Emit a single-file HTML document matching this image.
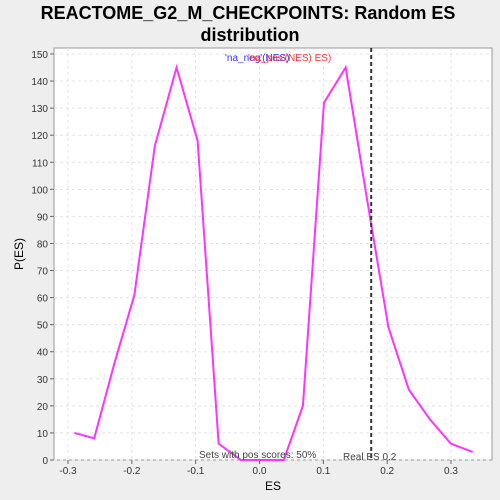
<!DOCTYPE html>
<html><head><meta charset="utf-8"><style>
html,body{margin:0;padding:0;background:#eeeeee;width:500px;height:500px;overflow:hidden;font-family:"Liberation Sans",sans-serif}
svg{display:block}
</style></head><body>
<svg id="chart" width="500" height="500" xmlns="http://www.w3.org/2000/svg" font-family="Liberation Sans, sans-serif">
<text x="248" y="19" text-anchor="middle" font-size="18" font-weight="bold">REACTOME_G2_M_CHECKPOINTS: Random ES</text>
<text x="250" y="41" text-anchor="middle" font-size="18" font-weight="bold">distribution</text>
<rect x="54" y="48" width="438" height="412" fill="#fff" stroke="#999"/>
<g id="grid"></g><g id="axes"></g><g id="series"></g>
<text x="225" y="61" font-size="10" fill="#3333ff">'na_neg'(NES)</text>
<text x="248" y="61" font-size="10" fill="#ff3333">'na_pos'(NES) ES)</text>
<text x="273" y="490" text-anchor="middle" font-size="12">ES</text>
<text x="23" y="254" text-anchor="middle" font-size="12" transform="rotate(-90 23 254)">P(ES)</text>
<text x="199" y="458" font-size="10" fill="#444">Sets with pos scores: 50%</text>
<text x="343" y="460" font-size="10" fill="#444">Real ES 0.2</text>
</svg>
<script>
const esValues=[-0.29,-0.259,-0.227,-0.196,-0.164,-0.13,-0.097,-0.064,-0.029,0.038,0.068,0.101,0.135,0.168,0.202,0.234,0.267,0.3,0.334];
const densityValues=[10,8,36,61,116,145,118,6,0,0,20,132,145,97,49,26,15,6,3];
const xTicks=[-0.3,-0.2,-0.1,0.0,0.1,0.2,0.3];
const xTickLabels=["-0.3","-0.2","-0.1","0.0","0.1","0.2","0.3"];
const yTicks=[0,10,20,30,40,50,60,70,80,90,100,110,120,130,140,150];
const realES=[0.175];
const NS="http://www.w3.org/2000/svg";
const x=v=>259.5+v*638.3;
const y=v=>460-v*2.7067;
function mk(t,a,p){const e=document.createElementNS(NS,t);for(const k in a)e.setAttribute(k,a[k]);p.appendChild(e);return e;}
const grid=document.getElementById('grid'),axes=document.getElementById('axes'),series=document.getElementById('series');
yTicks.forEach(v=>{
 const l=mk('line',{x1:54,x2:492,y1:y(v),y2:y(v),stroke:'#e4e4e4','stroke-dasharray':'3,3'},grid);
 
 
 mk('line',{x1:50,x2:54,y1:y(v),y2:y(v),stroke:'#666'},axes);
 const t=mk('text',{x:48,y:y(v)+4,'text-anchor':'end','font-size':10,fill:'#333'},axes);t.textContent=v;
 
 
});
xTicks.forEach((v,i)=>{
 const l=mk('line',{x1:x(v),x2:x(v),y1:48,y2:460,stroke:'#e4e4e4','stroke-dasharray':'3,3'},grid);
 
 
 mk('line',{x1:x(v),x2:x(v),y1:460,y2:464,stroke:'#666'},axes);
 const t=mk('text',{x:x(v),y:474,'text-anchor':'middle','font-size':10,fill:'#333'},axes);t.textContent=xTickLabels[i];
 
 
});
const pts=esValues.map((v,i)=>x(v)+','+y(densityValues[i])).join(' ');
const pl=mk('polyline',{points:pts,fill:'none',stroke:'#ff33ff','stroke-width':2},series);


realES.forEach(v=>{
 const l=mk('line',{x1:x(v),x2:x(v),y1:48,y2:460,stroke:'#333','stroke-width':2,'stroke-dasharray':'4,3'},series);
 
 
});
</script>
</body></html>
